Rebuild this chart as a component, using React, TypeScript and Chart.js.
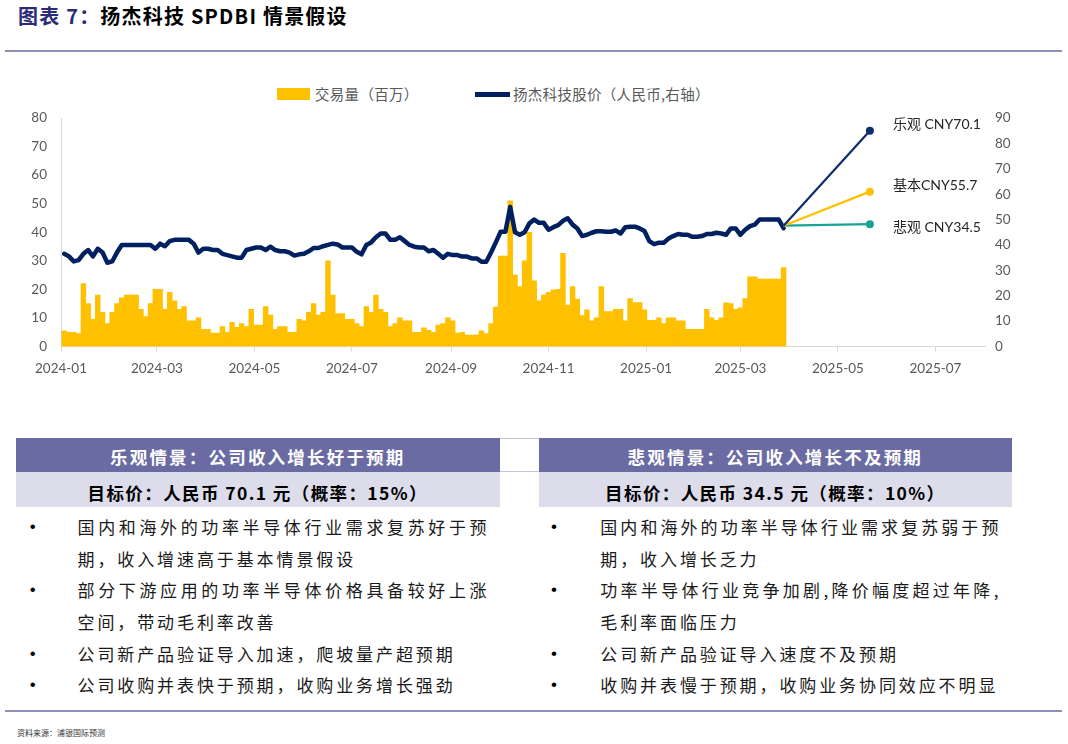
import React, { useEffect, useRef } from 'react';
import { Chart, registerables } from 'chart.js';

Chart.register(...registerables);

// ---------------- data ----------------
// daily-ish samples (every 3 calendar days)
const FIRST_DATE = '2024-01-03';
const STEP_DAYS = 3;

// 交易量（百万）, left axis
const volume: number[] = [
  5.5, 5, 5, 4.5, 22, 15, 9.5, 18, 12, 8, 12, 15, 17, 18, 18, 18, 13, 10.5, 15, 20, 20, 13, 19, 16, 13,
  14, 9, 9, 10, 6, 6, 4.7, 4.7, 7, 5, 8.5, 6.7, 8, 7, 13, 7.5, 7.5, 14, 11, 6, 7, 7, 5, 5, 9.5, 9,
  12, 15, 11, 12, 30, 18, 11.5, 11.5, 9.5, 9.5, 8, 7, 14, 12, 18, 13, 12, 7, 8, 10, 9, 9, 5, 5, 6.5, 5.7,
  5, 7.5, 8, 10, 9, 4.7, 5, 4, 4, 4, 5.5, 4.5, 8, 13.8, 31.7, 31.7, 51, 25, 21, 30, 40, 23, 16, 18, 19, 19.8,
  20, 32.6, 14.5, 21, 16.5, 10.8, 12.8, 9, 10, 21, 12.2, 12.2, 13, 13, 9, 16.8, 15.4, 15.4, 12.8, 9.2, 9.2, 10, 8, 10, 10, 9,
  9, 6, 6, 6, 6, 13, 10, 9.2, 10, 15.3, 15, 13, 13.5, 16.8, 24.4, 24.4, 23.6, 23.6, 23.6, 23.6, 23.6, 27.6,
];

// 扬杰科技股价（人民币）, right axis
const price: number[] = [
  36.5, 35.5, 33.5, 34, 36.5, 38, 35.5, 38.5, 37, 33, 33.5, 37, 40, 40, 40, 40, 40, 40, 40, 38.5, 40.5, 39.5, 41.5, 42, 42,
  42, 42, 40.5, 37, 38.5, 38.5, 38, 38, 36.5, 36, 35.5, 35, 35, 38, 38.5, 39, 39, 38, 39.3, 38, 37.5, 37.5, 37, 35.8, 36.3, 36.5,
  37.5, 38.8, 38.8, 39.5, 40, 40.5, 40.2, 39, 39, 39, 37.3, 36.3, 40, 41, 43, 44.5, 44.5, 42, 42, 43, 41.5, 40, 39.3, 39, 39, 37.5,
  38, 36.5, 35, 36.5, 36, 36, 35.4, 35.4, 34.7, 34.7, 33.4, 33.4, 37, 41, 45.2, 45.2, 55, 45, 44, 45, 48.5, 50, 48.7, 48.7, 46, 47,
  47.8, 49.5, 50.5, 48, 46.5, 43.5, 44, 44.8, 45.4, 45.4, 45.2, 45.2, 45.7, 44.5, 47, 47.2, 47.2, 46.5, 45.5, 41.5, 40.3, 40.9, 40.9, 42.5, 43.5, 44.3,
  44, 44, 43.2, 43.2, 43.5, 44.3, 44.3, 44.8, 44.5, 44, 46.5, 46.5, 44, 46, 47.4, 48, 50, 50, 50, 50, 50, 46.6,
];

const legendLabels = ['交易量（百万）', '扬杰科技股价（人民币,右轴）'];

const xTickLabels = ['2024-01', '2024-03', '2024-05', '2024-07', '2024-09', '2024-11', '2025-01', '2025-03', '2025-05', '2025-07'];
const AXIS_START = '2024-01-01';
const AXIS_END = '2025-08-01';

const scenarioLabels = ['乐观 CNY70.1', '基本CNY55.7', '悲观 CNY34.5'];
const scenarioDates = ['2025-03-28', '2025-05-21'];
const scenarioStart = 47.6;
const scenarioEnds = [85, 61, 48.2];

const title1 = '图表 7：';
const title2 = '扬杰科技 SPDBI 情景假设';
const bullHeader = '乐观情景：公司收入增长好于预期';
const bullTarget = '目标价：人民币 70.1 元（概率：15%）';
const bullPoints = [
  '国内和海外的功率半导体行业需求复苏好于预期，收入增速高于基本情景假设',
  '部分下游应用的功率半导体价格具备较好上涨空间，带动毛利率改善',
  '公司新产品验证导入加速，爬坡量产超预期',
  '公司收购并表快于预期，收购业务增长强劲',
];
const bearHeader = '悲观情景：公司收入增长不及预期';
const bearTarget = '目标价：人民币 34.5 元（概率：10%）';
const bearPoints = [
  '国内和海外的功率半导体行业需求复苏弱于预期，收入增长乏力',
  '功率半导体行业竞争加剧,降价幅度超过年降,毛利率面临压力',
  '公司新产品验证导入速度不及预期',
  '收购并表慢于预期，收购业务协同效应不明显',
];
const sourceText = '资料来源：浦银国际预测';

// ---------------- styles ----------------
const NAVY = '#002060';
const GOLD = '#FFC000';
const TEAL = '#17A398';
const scenarioColors = ['#0E2C6E', GOLD, TEAL];
const scenarioLabelDy = [-6.5, -6, 3];
const TICK_COLOR = '#595959';
const LATIN = 'Lato, "Noto Sans", sans-serif';
const CJK = '"Noto Sans CJK SC", "Noto Sans", sans-serif';
const HEADER_BG = '#6B6BA3';
const SUB_BG = '#DCDCEA';
const RULE = '#8F8FBE';

const DAY_MS = 86400000;
const dayOf = (s: string) => {
  const [y, m, d] = s.split('-').map(Number);
  return Math.round((Date.UTC(y, m - 1, d || 1) - Date.UTC(2024, 0, 1)) / DAY_MS);
};

const CANVAS_W = 1068;
const CANVAS_H = 338;

const scenarioLabelPlugin = {
  id: 'scenarioLabels',
  afterDatasetsDraw(chart: any) {
    const ctx = chart.ctx;
    ctx.save();
    ctx.font = `14px Lato, "Noto Sans CJK SC", sans-serif`;
    ctx.fillStyle = '#262626';
    ctx.textBaseline = 'middle';
    ctx.textAlign = 'left';
    scenarioLabels.forEach((t, k) => {
      const meta = chart.getDatasetMeta(2 + k);
      const pt = meta.data[meta.data.length - 1];
      if (pt) ctx.fillText(t, pt.x + 23, pt.y + scenarioLabelDy[k]);
    });
    ctx.restore();
  },
};

function PriceChart() {
  const ref = useRef<HTMLCanvasElement>(null);
  useEffect(() => {
    const first = dayOf(FIRST_DATE);
    const volPts = volume.map((v, i) => ({ x: first + i * STEP_DAYS, y: v }));
    const pricePts = price.map((v, i) => ({ x: first + i * STEP_DAYS, y: v }));
    const tickValues = xTickLabels.map((l) => dayOf(l));
    const scen = scenarioLabels.map((lab, k) => ({
      type: 'line',
      label: lab,
      data: [
        { x: dayOf(scenarioDates[0]), y: scenarioStart },
        { x: dayOf(scenarioDates[1]), y: scenarioEnds[k] },
      ],
      yAxisID: 'y1',
      borderColor: scenarioColors[k],
      backgroundColor: scenarioColors[k],
      borderWidth: 2.2,
      pointRadius: [0, 4],
      pointHoverRadius: 0,
      pointBorderWidth: 0,
      pointBackgroundColor: scenarioColors[k],
      tension: 0,
      order: 0,
    }));
    const chart = new Chart(ref.current as HTMLCanvasElement, {
      type: 'bar',
      data: {
        datasets: [
          {
            type: 'bar',
            label: legendLabels[0],
            data: volPts,
            yAxisID: 'y',
            backgroundColor: GOLD,
            borderWidth: 0,
            barPercentage: 1,
            categoryPercentage: 1,
            order: 3,
          },
          {
            type: 'line',
            label: legendLabels[1],
            data: pricePts,
            yAxisID: 'y1',
            borderColor: NAVY,
            backgroundColor: NAVY,
            borderWidth: 4.5,
            borderJoinStyle: 'round',
            borderCapStyle: 'round',
            pointRadius: 0,
            tension: 0,
            order: 2,
          },
          ...scen,
        ] as any,
      },
      options: {
        animation: false,
        responsive: false,
        maintainAspectRatio: false,
        layout: { padding: { top: 56, left: 0, right: 0, bottom: 0 } },
        plugins: {
          legend: { display: false },
          tooltip: { enabled: false },
        },
        scales: {
          x: {
            type: 'linear',
            min: dayOf(AXIS_START),
            max: dayOf(AXIS_END),
            offset: false,
            afterBuildTicks: (scale: any) => {
              scale.ticks = tickValues.map((v) => ({ value: v }));
            },
            afterFit: (scale: any) => {
              scale.height = CANVAS_H - 284.5;
            },
            ticks: {
              autoSkip: false,
              maxRotation: 0,
              minRotation: 0,
              padding: 9,
              color: TICK_COLOR,
              font: { family: LATIN, size: 13.5 },
              callback: (value: any) => {
                const i = tickValues.indexOf(value);
                return i >= 0 ? xTickLabels[i] : '';
              },
            },
            grid: {
              display: true,
              drawOnChartArea: false,
              drawTicks: true,
              tickLength: 5,
              offset: false,
              color: '#D9D9D9',
            },
            border: { display: true, color: '#D9D9D9', width: 1 },
          },
          y: {
            type: 'linear',
            position: 'left',
            min: 0,
            max: 80,
            afterFit: (scale: any) => {
              scale.width = 61;
            },
            ticks: { stepSize: 10, padding: 14, color: TICK_COLOR, font: { family: LATIN, size: 13.5 } },
            grid: { display: false, drawTicks: false },
            border: { display: true, color: '#D9D9D9', width: 1 },
          },
          y1: {
            type: 'linear',
            position: 'right',
            min: 0,
            max: 90,
            afterFit: (scale: any) => {
              scale.width = CANVAS_W - 985;
            },
            ticks: { stepSize: 10, padding: 10, color: TICK_COLOR, font: { family: LATIN, size: 13.5 } },
            grid: { display: false, drawTicks: false },
            border: { display: false },
          },
        },
      } as any,
      plugins: [scenarioLabelPlugin],
    });
    return () => chart.destroy();
  }, []);
  return <canvas ref={ref} width={CANVAS_W} height={CANVAS_H} style={{ width: CANVAS_W, height: CANVAS_H, display: 'block' }} />;
}

function Column(props: {
  left: number;
  width: number;
  header: string;
  target: string;
  points: string[];
  textPad: number;
  textWidth: number;
  bullet: number;
}) {
  const { left, width, header, target, points, textPad, textWidth, bullet } = props;
  return (
    <>
      <div
        style={{
          position: 'absolute', left, top: 438, width, height: 34, background: HEADER_BG, color: '#fff',
          fontWeight: 700, fontSize: 17.5, letterSpacing: 2.2, lineHeight: '37px', textAlign: 'center', whiteSpace: 'nowrap',
        }}
      >
        {header}
      </div>
      <div
        style={{
          position: 'absolute', left, top: 472, width, height: 35, background: SUB_BG, color: '#000',
          fontWeight: 700, fontSize: 17.5, letterSpacing: 1.4, lineHeight: '41px', textAlign: 'center', whiteSpace: 'nowrap',
        }}
      >
        {target}
      </div>
      <div style={{ position: 'absolute', left, top: 511, width }}>
        {points.map((p, i) => (
          <div key={i} style={{ position: 'relative', paddingLeft: textPad }}>
            <span
              style={{
                position: 'absolute', left: bullet - 8, width: 16, textAlign: 'center', fontFamily: '"Liberation Sans", Arial, sans-serif',
                fontSize: 17, lineHeight: '31.67px', color: '#000',
              }}
            >
              •
            </span>
            <div
              style={{
                width: textWidth, fontSize: 17, letterSpacing: 2.9, lineHeight: '31.67px', textAlign: 'justify', color: '#1a1a1a',
              }}
            >
              {p}
            </div>
          </div>
        ))}
      </div>
    </>
  );
}

export default function App() {
  return (
    <div style={{ position: 'absolute', left: 0, top: 0, width: 1068, height: 744, background: '#fff', fontFamily: CJK, overflow: 'hidden' }}>
      <div style={{ position: 'absolute', left: 18, top: 4, fontSize: 20, fontWeight: 700, letterSpacing: 1.2, lineHeight: '24px', whiteSpace: 'nowrap', color: '#000' }}>
        <span style={{ color: '#2B2B78' }}>{title1}</span>
        {title2}
      </div>
      <div style={{ position: 'absolute', left: 5, top: 50, width: 1057, height: 1.5, background: RULE }} />

      {/* legend */}
      <div style={{ position: 'absolute', left: 277, top: 88, width: 33, height: 12, background: GOLD }} />
      <div style={{ position: 'absolute', left: 315, top: 85, fontSize: 14.5, letterSpacing: 0.3, lineHeight: '18px', color: TICK_COLOR, whiteSpace: 'nowrap' }}>
        {legendLabels[0]}
      </div>
      <div style={{ position: 'absolute', left: 475, top: 92, width: 35, height: 4.5, background: NAVY }} />
      <div style={{ position: 'absolute', left: 513, top: 85, fontSize: 14.5, letterSpacing: 0.3, lineHeight: '18px', color: TICK_COLOR, whiteSpace: 'nowrap' }}>
        {legendLabels[1]}
      </div>

      <div style={{ position: 'absolute', left: 0, top: 62, width: CANVAS_W, height: CANVAS_H }}>
        <PriceChart />
      </div>

      <Column left={15.5} width={484.5} header={bullHeader} target={bullTarget} points={bullPoints} textPad={62} textWidth={412} bullet={17.2} />
      <div style={{ position: 'absolute', left: 500, top: 438, width: 38.6, height: 34, borderTop: '1px solid #C5C5DA', borderBottom: '1px solid #C5C5DA', boxSizing: 'border-box' }} />
      <Column left={538.6} width={473.4} header={bearHeader} target={bearTarget} points={bearPoints} textPad={61.7} textWidth={401} bullet={15.4} />

      <div style={{ position: 'absolute', left: 5, top: 710, width: 1057, height: 1.5, background: RULE }} />
      <div style={{ position: 'absolute', left: 17, top: 727, fontSize: 8, lineHeight: '12px', color: '#333', whiteSpace: 'nowrap' }}>{sourceText}</div>
    </div>
  );
}
